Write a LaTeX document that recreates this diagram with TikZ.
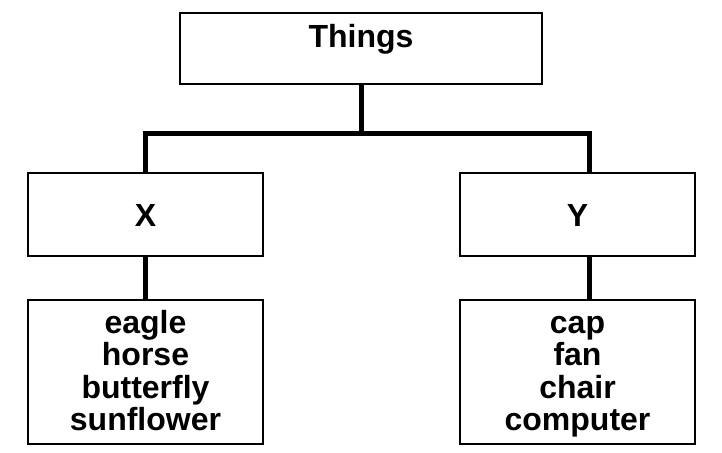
\documentclass[tikz,border=0pt]{standalone}
\usepackage{fontspec}
\setmainfont{Liberation Sans}
\usetikzlibrary{calc}
\begin{document}
\begin{tikzpicture}[x=1pt,y=-1pt,
  box/.style={draw, line width=2pt, inner sep=0pt, align=center,
    font=\bfseries\fontsize{32}{32.5}\selectfont},
  listbox/.style={box, text width=235pt, text height=33pt, text depth=111pt, anchor=north},
  conn/.style={line width=5pt}]
\useasboundingbox (0,0) rectangle (722,452);
\node[box, text width=362pt, text height=35pt, text depth=36pt, anchor=base] (things) at (361,48) {Things};
\node[box, text width=235pt, text height=53pt, text depth=30pt, anchor=base] (xbox) at (145.5,226) {X};
\node[box, text width=235pt, text height=53pt, text depth=30pt, anchor=base] (ybox) at (577.5,226) {Y};
\node[listbox] (xlist) at (145.5,299) {eagle\\horse\\butterfly\\sunflower};
\node[listbox] (ylist) at (577.5,299) {cap\\fan\\chair\\computer};
\coordinate (j) at ($(things.south)+(0,48)$);
\draw[conn] (things.south) -- (j);
\draw[conn] (xbox.north) |- (j) -| ($(ybox.north)+(12,0)$);
\draw[conn] (xbox.south) -- (xlist.north);
\draw[conn] ($(ybox.south)+(12,0)$) -- ($(ylist.north)+(12,0)$);
\end{tikzpicture}
\end{document}
